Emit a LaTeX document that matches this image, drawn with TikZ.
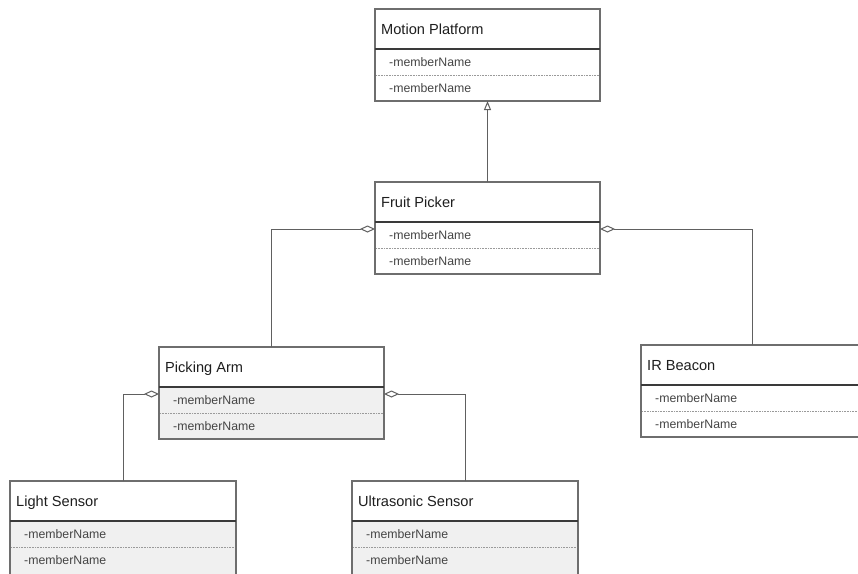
\documentclass[tikz,border=0pt]{standalone}
\usepackage{fontspec}
\setmainfont{Liberation Sans}
\usetikzlibrary{arrows.meta,calc}
\definecolor{bordercol}{HTML}{6E6E6E}
\definecolor{sepcol}{HTML}{3A3A3A}
\definecolor{dotcol}{HTML}{9A9A9A}
\definecolor{graysec}{HTML}{F0F0F0}
\definecolor{titlecol}{HTML}{1E1E1E}
\definecolor{membercol}{HTML}{454545}
\definecolor{linecol}{HTML}{606060}
\tikzset{
 classbox/.style={rectangle, draw=none, fill=white, minimum height=92pt, inner sep=0pt, outer sep=0pt, anchor=north west},
 classborder/.style={draw=bordercol, line width=1.1pt},
 sepline/.style={draw=sepcol, line width=1.6pt},
 dotline/.style={draw=dotcol, line width=0.8pt, dash pattern=on 0.8pt off 0.8pt},
 classtitle/.style={anchor=base west, inner sep=0pt, text=titlecol, font=\fontsize{14.6}{16}\selectfont},
 member/.style={anchor=base west, inner sep=0pt, text=membercol, font=\fontsize{12.3}{13}\selectfont},
 conn/.style={draw=linecol, line width=1pt},
 gen/.style={conn, -{Triangle[open, length=9pt, width=7pt, line width=1pt]}},
 agg/.style={conn, {Diamond[open, length=15pt, width=7pt, line width=1pt]}-},
}
% [extra box options] name, left x, top y, width, title, section fill
\newcommand\umlclass[7][]{%
 \node[classbox, minimum width=#5pt, #1] (#2) at (#3,#4) {};
 \fill[#7] ($(#2.north west)+(0,40)$) rectangle (#2.south east);
 \draw[classborder] (#2.north west) rectangle (#2.south east);
 \draw[sepline] ($(#2.north west)+(0,40)$) -- ($(#2.north east)+(0,40)$);
 \draw[dotline] ($(#2.north west)+(1,66)$) -- ($(#2.north east)+(-1,66)$);
 \node[classtitle] (#2-t) at ($(#2.north west)+(6,25)$) {#6};
 \node[member] (#2-m1) at ($(#2.north west)+(14,57)$) {-memberName};
 \node[member] (#2-m2) at ($(#2.north west)+(14,83)$) {-memberName};
}
\begin{document}
\begin{tikzpicture}[x=1pt,y=-1pt]
\useasboundingbox (0,0) rectangle (858,573);
\clip (0,0) rectangle (858,573);
\fill[white] (0,0) rectangle (858,573);
\umlclass{mp}{375}{9}{225}{Motion Platform}{white}
\umlclass{fp}{375}{182}{225}{Fruit Picker}{white}
\umlclass{pa}{159}{347}{225}{Picking Arm}{graysec}
\umlclass{ir}{641}{345}{222}{IR Beacon}{white}
\umlclass[minimum height=110pt]{ls}{10}{481}{226}{Light Sensor}{graysec}
\umlclass[minimum height=110pt]{us}{352}{481}{226}{Ultrasonic Sensor}{graysec}
\coordinate (fpL) at ($(fp.north west)+(0,47)$);
\coordinate (fpR) at ($(fp.north east)+(0,47)$);
\coordinate (paL) at ($(pa.north west)+(0,47)$);
\coordinate (paR) at ($(pa.north east)+(0,47)$);
\draw[gen] (fp.north) -- (mp.south);
\draw[agg] (fpL) -| (pa.north);
\draw[agg] (fpR) -| (ir.north);
\draw[agg] (paL) -| (ls.north);
\draw[agg] (paR) -| (us.north);
\end{tikzpicture}
\end{document}
